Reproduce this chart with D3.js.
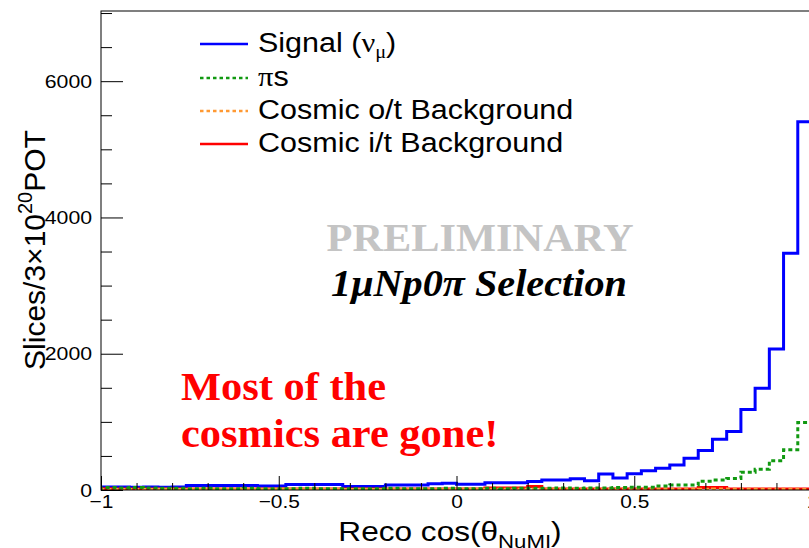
<!DOCTYPE html>
<html><head><meta charset="utf-8">
<script src="https://cdn.jsdelivr.net/npm/d3@7"></script>
<style>
html,body{margin:0;padding:0;background:#fff;}
svg{display:block;}
</style></head>
<body>
<svg id="c" width="809" height="548"></svg>
<script>
// ---- data ----
const binEdgesStart = -1, binWidth = 0.04;
const signal = [45,45,40,45,40,45,65,65,65,65,65,60,60,80,80,80,80,50,50,50,75,75,75,90,100,85,85,105,105,105,125,145,145,165,135,235,175,240,283,318,367,465,580,745,860,1180,1492,2069,3475,5405];
const pions  = [35,30,35,30,25,25,20,25,20,20,25,20,20,20,25,20,20,20,20,20,25,20,20,20,25,20,20,25,20,25,25,25,30,25,30,30,35,40,40,59,73,73,130,145,170,260,305,430,590,990];
const cosmicOT = [8,8,6,8,10,8,6,8,8,6,8,8,10,8,6,8,8,8,10,8,8,6,8,8,8,10,8,12,12,10,12,10,8,8,10,8,10,8,8,10,8,10,12,14,12,10,10,12,10,8];
const cosmicIT = [18,16,15,15,15,15,15,15,15,15,15,15,15,15,15,15,15,15,15,15,15,15,15,15,15,15,15,30,30,30,50,15,15,15,15,15,15,15,15,15,15,15,35,35,15,15,15,15,15,15];
const xTicksMajor = [-1,-0.5,0,0.5,1];
const xTickLabels = ["\u22121","\u22120.5","0","0.5","1"];
const yTicksMajor = [0,2000,4000,6000];
const yTickLabels = ["0","2000","4000","6000"];
const legendLabels = ["Signal","\u03c0s","Cosmic o/t Background","Cosmic i/t Background"];

// ---- layout ----
const SANS = "'Liberation Sans', Arial, Helvetica, sans-serif";
const SERIF = "'Liberation Serif', 'Times New Roman', serif";
const svg = d3.select("#c");
const L = 101, R = 812, T = 11, B = 490;
const x = d3.scaleLinear().domain([-1,1]).range([L,R]);
const y = d3.scaleLinear().domain([0,7030]).range([B,T]);

svg.append("defs").append("clipPath").attr("id","clip")
  .append("rect").attr("x",L).attr("y",T).attr("width",R-L).attr("height",B-T);

// histogram step paths
function stepPts(vals){
  const pts = [[binEdgesStart,0]];
  vals.forEach((v,i)=>{ const e = binEdgesStart+i*binWidth; pts.push([e,v]); });
  pts.push([binEdgesStart+vals.length*binWidth, vals[vals.length-1]]);
  return pts;
}
const line = d3.line().x(d=>x(d[0])).y(d=>y(d[1])).curve(d3.curveStepAfter);
const g = svg.append("g").attr("clip-path","url(#clip)");
const series = [
  {v:signal, c:"#0000ff", dash:null},
  {v:cosmicIT, c:"#ff0000", dash:null},
  {v:cosmicOT, c:"#ff9933", dash:"4,3"},
  {v:pions, c:"#119911", dash:"4,3"}
];
series.forEach(s=>{
  g.append("path").attr("d",line(stepPts(s.v))).attr("fill","none")
   .attr("stroke",s.c).attr("stroke-width",3).attr("stroke-dasharray",s.dash);
});

// frame
svg.append("rect").attr("x",L).attr("y",T).attr("width",R-L).attr("height",B-T)
  .attr("fill","none").attr("stroke","#000").attr("stroke-width",1);

// y axis
const yMinor = d3.range(0,7001,500).filter(v=>v%2000!==0);
svg.append("g").attr("transform",`translate(${L},0)`)
  .call(d3.axisLeft(y).tickValues(yMinor).tickSize(-11).tickFormat(""))
  .call(a=>a.select(".domain").remove())
  .call(a=>a.selectAll("line").attr("stroke","#000"));
svg.append("g").attr("transform",`translate(${L},0)`)
  .call(d3.axisLeft(y).tickValues(yTicksMajor).tickSize(-22).tickPadding(8)
        .tickFormat((d,i)=>yTickLabels[i]))
  .call(a=>a.select(".domain").remove())
  .call(a=>a.selectAll("line").attr("stroke","#000"))
  .call(a=>a.selectAll("text").style("font-size","19px").style("font-family",SANS)
        .attr("fill","#000").attr("transform","scale(1.12,1)"));

// x axis
const xMinor = d3.range(-10,11).map(d=>d/10).filter(v=>Math.abs(v*2-Math.round(v*2))>1e-6);
svg.append("g").attr("transform",`translate(0,${B})`)
  .call(d3.axisBottom(x).tickValues(xMinor).tickSize(-7).tickFormat(""))
  .call(a=>a.select(".domain").remove())
  .call(a=>a.selectAll("line").attr("stroke","#000"));
svg.append("g").attr("transform",`translate(0,${B})`)
  .call(d3.axisBottom(x).tickValues(xTicksMajor).tickSize(-14).tickPadding(5)
        .tickFormat((d,i)=>xTickLabels[i]))
  .call(a=>a.select(".domain").remove())
  .call(a=>a.selectAll("line").attr("stroke","#000"))
  .call(a=>a.selectAll("text").style("font-size","19px").style("font-family",SANS)
        .attr("fill","#000").attr("transform","scale(1.1,1)"));

// axis titles
const yt = svg.append("text").attr("transform","translate(45,250) rotate(-90)")
  .attr("text-anchor","middle").style("font-size","30px").style("font-family",SANS).attr("fill","#000");
yt.append("tspan").text("Slices/3\u00d710");
yt.append("tspan").style("font-size","20px").attr("dy",-13).text("20");
yt.append("tspan").attr("dy",13).text("POT");

const xt = svg.append("text").attr("transform",`translate(450,541) scale(1.17,1)`)
  .attr("text-anchor","middle").style("font-size","27px").style("font-family",SANS).attr("fill","#000");
xt.append("tspan").text("Reco cos(\u03b8");
xt.append("tspan").style("font-size","19px").attr("dy",7).text("NuMI");
xt.append("tspan").attr("dy",-7).text(")");

// legend
const lg = svg.append("g");
const rowsY = [52,86,119,152];
const legendSeries = [series[0],series[3],series[2],series[1]];
legendSeries.forEach((s,i)=>{
  lg.append("line").attr("x1",200).attr("x2",248).attr("y1",rowsY[i]-8).attr("y2",rowsY[i]-8)
    .attr("stroke",s.c).attr("stroke-width",2.5).attr("stroke-dasharray",s.dash?"3.5,3":null);
  const t = lg.append("text").attr("transform",`translate(258,${rowsY[i]}) scale(1.13,1)`)
    .style("font-size","27px").style("font-family",SANS).attr("fill","#000");
  if(i===0){
    t.append("tspan").text(legendLabels[0]+" (");
    t.append("tspan").style("font-family",SERIF).text("\u03bd");
    t.append("tspan").style("font-family",SERIF).style("font-size","18px").attr("dy",6).text("\u03bc");
    t.append("tspan").attr("dy",-6).text(")");
  } else if(i===1){
    t.append("tspan").style("font-family",SERIF).text("\u03c0");
    t.append("tspan").text("s");
  } else {
    t.text(legendLabels[i]);
  }
});

// annotations
svg.append("text").attr("transform","translate(480,251) scale(1.06,1)").attr("text-anchor","middle")
  .style("font-family",SERIF).style("font-weight","bold")
  .style("font-size","40px").attr("fill","#c4c4c4").text("PRELIMINARY");
svg.append("text").attr("transform","translate(479,296) scale(1.06,1)").attr("text-anchor","middle")
  .style("font-family",SERIF).style("font-weight","bold").style("font-style","italic")
  .style("font-size","38px").attr("fill","#000").text("1\u03bcNp0\u03c0 Selection");
svg.append("text").attr("transform","translate(181,400) scale(1.035,1)")
  .style("font-family",SERIF).style("font-weight","bold")
  .style("font-size","41px").attr("fill","#ff0000").text("Most of the");
svg.append("text").attr("transform","translate(181,447) scale(1.035,1)")
  .style("font-family",SERIF).style("font-weight","bold")
  .style("font-size","41px").attr("fill","#ff0000").text("cosmics are gone!");
</script>
</body></html>
